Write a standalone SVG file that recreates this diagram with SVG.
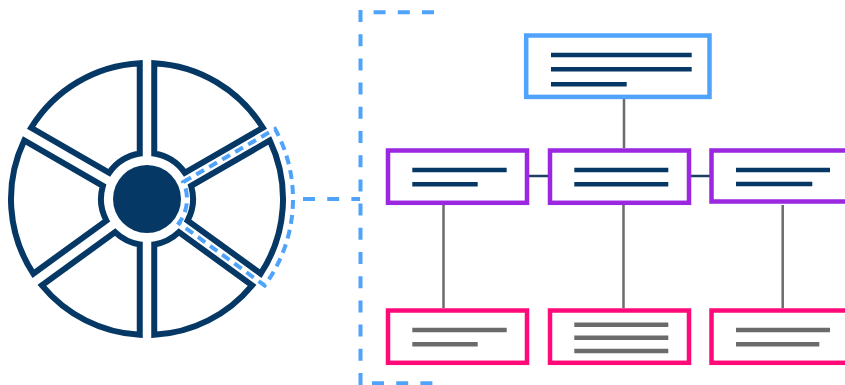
<svg xmlns="http://www.w3.org/2000/svg" width="845" height="385" viewBox="0 0 845 385">
  <defs>
    <style>
      .seg { fill: #ffffff; stroke: #063866; stroke-width: 6; stroke-linejoin: miter; }
      .hub { fill: #063866; }
      .dash { fill: none; stroke: #4fa3fb; stroke-width: 4; stroke-dasharray: 12 12.2; }
      .hl { fill: none; stroke: #4fa3fb; stroke-width: 4; stroke-dasharray: 9 6; stroke-linejoin: miter; }
      .box-top { fill: #ffffff; stroke: #4fa3fb; stroke-width: 4.5; }
      .box-mid { fill: #ffffff; stroke: #9b27e0; stroke-width: 4.5; }
      .box-low { fill: #ffffff; stroke: #ff0a78; stroke-width: 4.5; }
      .bar-dark { stroke: #063866; stroke-width: 4.5; }
      .bar-grey { stroke: #6b6b6b; stroke-width: 4.5; }
      .link { stroke: #6b6b6b; stroke-width: 2.5; fill: none; }
      .link-h { stroke: #1d3f63; stroke-width: 2.5; fill: none; }
    </style>
  </defs>

  <!-- segmented wheel -->
  <g id="wheel">
    <path class="seg" d="M154.25,153.57 L154.25,63.19 A136,136 0 0 1 262.84,127.75 L184.81,172.80 A46,46 0 0 0 154.25,153.57 Z"/>
    <path class="seg" d="M191.10,185.91 L269.77,140.49 A136,136 0 0 1 260.69,273.64 L187.63,220.56 A46,46 0 0 0 191.10,185.91 Z"/>
    <path class="seg" d="M154.25,244.43 L154.25,334.81 A136,136 0 0 0 252.09,285.32 L178.90,232.14 A46,46 0 0 1 154.25,244.43 Z"/>
    <path class="seg" d="M139.75,153.57 L139.75,63.19 A136,136 0 0 0 31.16,127.75 L109.19,172.80 A46,46 0 0 1 139.75,153.57 Z"/>
    <path class="seg" d="M102.90,185.91 L24.23,140.49 A136,136 0 0 0 33.31,273.64 L106.37,220.56 A46,46 0 0 1 102.90,185.91 Z"/>
    <path class="seg" d="M139.75,244.43 L139.75,334.81 A136,136 0 0 1 41.91,285.32 L115.10,232.14 A46,46 0 0 0 139.75,244.43 Z"/>
    <circle class="hub" cx="147" cy="199" r="34"/>
    <!-- highlighted segment -->
    <path class="hl" d="M183.24,182.07 L275.14,129.02 A146,146 0 0 1 264.64,285.47 L178.88,223.16 A40,40 0 0 0 183.24,182.07 Z"/>
  </g>

  <!-- dashed bracket linking the segment to the chart -->
  <g id="bracket">
    <line class="dash" x1="303" y1="199" x2="360" y2="199"/>
    <line class="dash" x1="360.5" y1="10" x2="360.5" y2="390"/>
    <line class="dash" x1="434" y1="12.3" x2="362" y2="12.3"/>
    <line class="dash" x1="372" y1="383.3" x2="440" y2="383.3"/>
  </g>

  <!-- connectors -->
  <g id="connectors">
    <line class="link" x1="624" y1="99" x2="624" y2="148"/>
    <line class="link-h" x1="529" y1="176" x2="548" y2="176"/>
    <line class="link-h" x1="691" y1="176" x2="710" y2="176"/>
    <line class="link" x1="443.5" y1="205" x2="443.5" y2="308"/>
    <line class="link" x1="623.5" y1="205" x2="623.5" y2="308"/>
    <line class="link" x1="782.7" y1="205" x2="782.7" y2="308"/>
  </g>

  <g id="node-top">
    <rect class="box-top" x="526.2" y="35.5" width="183.3" height="61.4"/>
    <line class="bar-dark" x1="551" y1="55" x2="691.7" y2="55"/>
    <line class="bar-dark" x1="551" y1="69.3" x2="691.7" y2="69.3"/>
    <line class="bar-dark" x1="551" y1="84.3" x2="626.7" y2="84.3"/>
  </g>

  <g id="node-mid-1">
    <rect class="box-mid" x="388" y="150.5" width="139" height="52.3"/>
    <line class="bar-dark" x1="412.3" y1="170" x2="506.7" y2="170"/>
    <line class="bar-dark" x1="412.3" y1="184.3" x2="477.7" y2="184.3"/>
  </g>
  <g id="node-mid-2">
    <rect class="box-mid" x="550" y="150.5" width="139" height="52.3"/>
    <line class="bar-dark" x1="574.3" y1="170" x2="668.3" y2="170"/>
    <line class="bar-dark" x1="574.3" y1="184.3" x2="668.3" y2="184.3"/>
  </g>
  <g id="node-mid-3">
    <rect class="box-mid" x="711.5" y="150.5" width="139" height="51"/>
    <line class="bar-dark" x1="736" y1="170" x2="830" y2="170"/>
    <line class="bar-dark" x1="736" y1="184" x2="812.3" y2="184"/>
  </g>

  <g id="node-low-1">
    <rect class="box-low" x="388" y="310.5" width="139" height="52.3"/>
    <line class="bar-grey" x1="412.3" y1="330" x2="506.7" y2="330"/>
    <line class="bar-grey" x1="412.3" y1="344.3" x2="477.7" y2="344.3"/>
  </g>
  <g id="node-low-2">
    <rect class="box-low" x="550" y="310.5" width="139" height="52.3"/>
    <line class="bar-grey" x1="574.3" y1="324.7" x2="668.3" y2="324.7"/>
    <line class="bar-grey" x1="574.3" y1="337.7" x2="668.3" y2="337.7"/>
    <line class="bar-grey" x1="574.3" y1="351" x2="668.3" y2="351"/>
  </g>
  <g id="node-low-3">
    <rect class="box-low" x="711.5" y="310.5" width="139" height="52.3"/>
    <line class="bar-grey" x1="736" y1="330" x2="830" y2="330"/>
    <line class="bar-grey" x1="736" y1="344.3" x2="819.3" y2="344.3"/>
  </g>
</svg>
